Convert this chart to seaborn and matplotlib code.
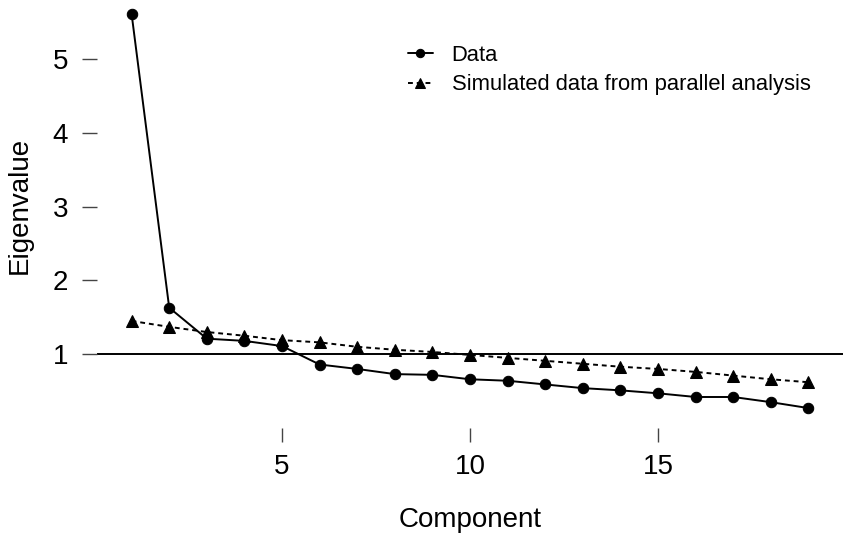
import seaborn as sns
import matplotlib.pyplot as plt
import pandas as pd

# values
components = list(range(1, 20))
data_eigen = [5.61, 1.63, 1.21, 1.18, 1.11, 0.86, 0.80, 0.73, 0.72, 0.66,
              0.64, 0.59, 0.54, 0.51, 0.47, 0.42, 0.42, 0.35, 0.27]
sim_eigen = [1.45, 1.37, 1.30, 1.25, 1.19, 1.16, 1.10, 1.06, 1.03, 0.99,
             0.95, 0.91, 0.87, 0.83, 0.80, 0.76, 0.71, 0.66, 0.62]
y_ticks = [1, 2, 3, 4, 5]
x_ticks = [5, 10, 15]

sns.set_style("white")
plt.rcParams['font.family'] = ['Liberation Sans', 'DejaVu Sans']
plt.rcParams['text.color'] = 'black'

df = pd.DataFrame({"Component": components, "Data": data_eigen, "Sim": sim_eigen})

fig = plt.figure(figsize=(8.51, 5.4), dpi=100)
ax = fig.add_axes([97 / 851, 1 - 428 / 540, (843 - 97) / 851, (428 - 5) / 540])

sns.lineplot(data=df, x="Component", y="Data", ax=ax, color="black", lw=1.4,
             marker="o", markersize=7.5, markeredgecolor="black", label="Data")
sns.lineplot(data=df, x="Component", y="Sim", ax=ax, color="black", lw=1.4,
             marker="^", markersize=8.5, markeredgecolor="black", dashes=False,
             linestyle=(0, (2.5, 2)), label="Simulated data from parallel analysis")
ax.axhline(1, color="black", lw=1.4, zorder=0)

ax.set_xlim(0.08, 19.92)
ax.set_ylim(0, 5.73)
for s in ax.spines.values():
    s.set_visible(False)
ax.grid(False)

ax.set_xticks(x_ticks)
ax.set_yticks(y_ticks)
ax.tick_params(axis="both", which="both", direction="out", color="#444444",
               labelsize=20, labelcolor="black", width=1.0)
ax.tick_params(axis="x", length=10, pad=9, bottom=True)
ax.tick_params(axis="y", length=10.8, pad=10, left=True)

ax.set_xlabel("Component", fontsize=20, labelpad=19, color="black")
ax.set_ylabel("Eigenvalue", fontsize=20, color="black")
ax.yaxis.set_label_coords(-64 / 746, (428 - 205) / 423)

leg = ax.legend(loc="upper left", bbox_to_anchor=(408 / 851, 1 - 45 / 540),
                bbox_transform=fig.transFigure, frameon=False, fontsize=15.8,
                handlelength=1.13, handletextpad=0.86, labelspacing=0.38,
                borderpad=0, borderaxespad=0, markerscale=0.8)
for line in leg.get_lines():
    line.set_linewidth(1.4)
for t in leg.get_texts():
    t.set_color("black")

fig.savefig("out.png", dpi=100)
